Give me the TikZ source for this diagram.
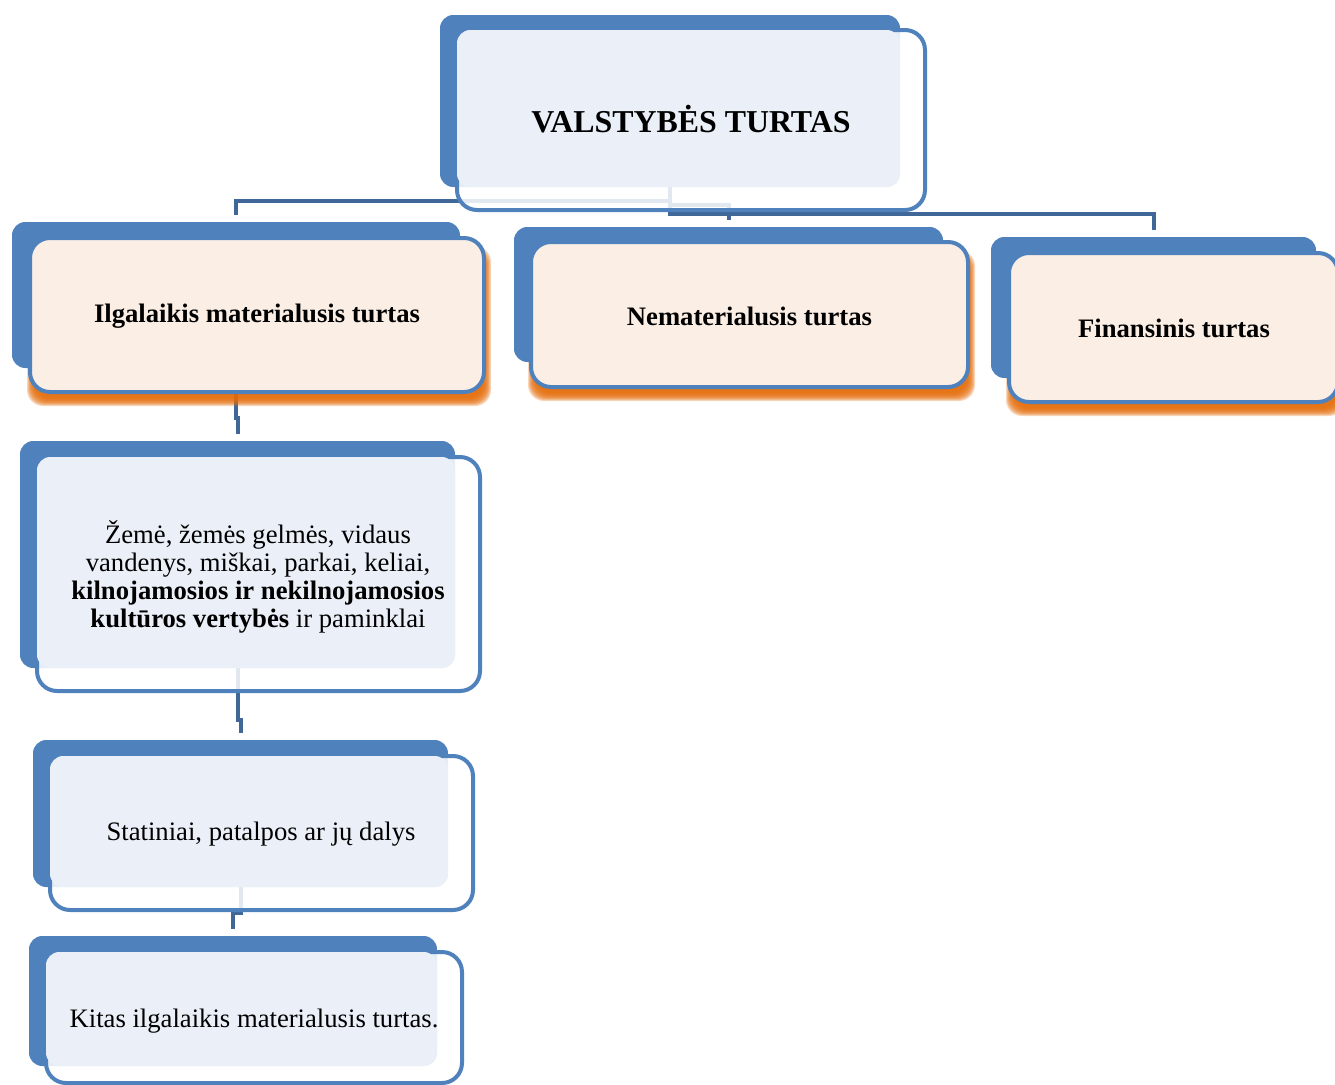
\documentclass[tikz,border=0pt]{standalone}
\usepackage{fontspec}
\setmainfont{Liberation Serif}
\usetikzlibrary{calc,backgrounds}

\definecolor{backblue}{HTML}{4F81BD}
\definecolor{frameblue}{HTML}{4F81BD}
\definecolor{paleblue}{HTML}{EBF0F8}
\definecolor{peach}{HTML}{FBEEE5}
\definecolor{shadeorange}{HTML}{E46C0A}
\definecolor{linkblue}{HTML}{3F6899}

\tikzset{
  backplate/.style={fill=backblue, rounded corners=10pt, inner sep=0pt, outer sep=0pt, draw=none},
  framebox/.style={draw=frameblue, line width=3pt, rounded corners=15pt},
  paleplate/.style={fill=paleblue, rounded corners=10pt},
  link/.style={draw=linkblue, line width=3pt, shorten >=5.5pt},
  boxtext/.style={align=center, inner sep=0pt, font=\fontsize{20}{21}\selectfont},
  boldtext/.style={boxtext, font=\bfseries\fontsize{20}{21}\selectfont}
}

% soft orange shadow under a frame given by its corners x1 y1 x2 y2
\newcommand\orangeshade[4]{%
  \foreach \o in {-4,...,4}{%
    \fill[shadeorange, opacity=0.27, rounded corners=12pt]
      ({#1+1-\o},{#2+12-\o}) rectangle ({#3+3+\o},{#4+10+\o});
  }%
}

\begin{document}
\begin{tikzpicture}[x=0.75pt,y=-0.75pt]
\useasboundingbox (0,0) rectangle (1335,1085);
\clip (0,0) rectangle (1335,1085);

% ---- root
\node[backplate, minimum width=345pt, minimum height=129pt] (root) at (670,101) {};
\draw[framebox, fill=white, fill opacity=0.85] (457,30) rectangle (925,210);
\fill[paleplate] (457,30) rectangle (900,187);
\node[boxtext, font=\bfseries\fontsize{23.9}{26}\selectfont] (rootlabel) at (691,119) {VALSTYBĖS TURTAS};

% ---- second level
\orangeshade{30}{238}{484}{392}
\node[backplate, minimum width=336pt, minimum height=109.5pt] (ilg) at (236,295) {};
\draw[framebox, fill=peach] (30,238) rectangle (484,392);
\node[boldtext] (ilglabel) at (257,316) {Ilgalaikis materialusis turtas};

\orangeshade{531}{242}{968}{387}
\node[backplate, minimum width=321.75pt, minimum height=101.25pt] (nem) at (728.5,294.5) {};
\draw[framebox, fill=peach] (531,242) rectangle (968,387);
\node[boldtext] (nemlabel) at (749.5,316) {Nematerialusis turtas};

\orangeshade{1009}{253}{1338}{402}
\node[backplate, minimum width=243.75pt, minimum height=105.75pt] (fin) at (1153.5,307.5) {};
\draw[framebox, fill=peach] (1009,253) rectangle (1338,402);
\node[boldtext] (finlabel) at (1174,328) {Finansinis turtas};

% ---- chain under the first branch
\node[backplate, minimum width=326.25pt, minimum height=170.25pt] (zem) at (237.5,554.5) {};
\draw[framebox, fill=white, fill opacity=0.85] (37,457) rectangle (480,691);
\fill[paleplate] (37,457) rectangle (455,668);
\node[boxtext] (zemlabel) at (258,577) {Žemė, žemės gelmės, vidaus\\
vandenys, miškai, parkai, keliai,\\
\textbf{kilnojamosios ir nekilnojamosios}\\
\textbf{kultūros vertybės} ir paminklai};

\node[backplate, minimum width=311.25pt, minimum height=110.25pt] (sta) at (240.5,813.5) {};
\draw[framebox, fill=white, fill opacity=0.85] (50,756) rectangle (473,910);
\fill[paleplate] (50,756) rectangle (448,887);
\node[boxtext] (stalabel) at (261,834) {Statiniai, patalpos ar jų dalys};

\node[backplate, minimum width=306pt, minimum height=97.5pt] (kit) at (233,1001) {};
\draw[framebox, fill=white, fill opacity=0.85] (46,952) rectangle (462,1083);
\fill[paleplate] (46,952) rectangle (437,1066);
\node[boxtext] (kitlabel) at (254,1021) {Kitas ilgalaikis materialusis turtas.};

% ---- connectors, kept behind the boxes
\begin{scope}[on background layer]
  \draw[link] (root.south) -- ++(0,14) -| (ilg.north);
  \draw[link] (root.south) -- ++(0,18) -| (nem.north);
  \draw[link] (root.south) -- ++(0,27) -| (fin.north);
  \draw[link] (ilg.south) -- ++(0,50) -| (zem.north);
  \draw[link] (zem.south) -- ++(0,52) -| (sta.north);
  \draw[link] (sta.south) -- ++(0,26) -| (kit.north);
\end{scope}
\end{tikzpicture}
\end{document}
